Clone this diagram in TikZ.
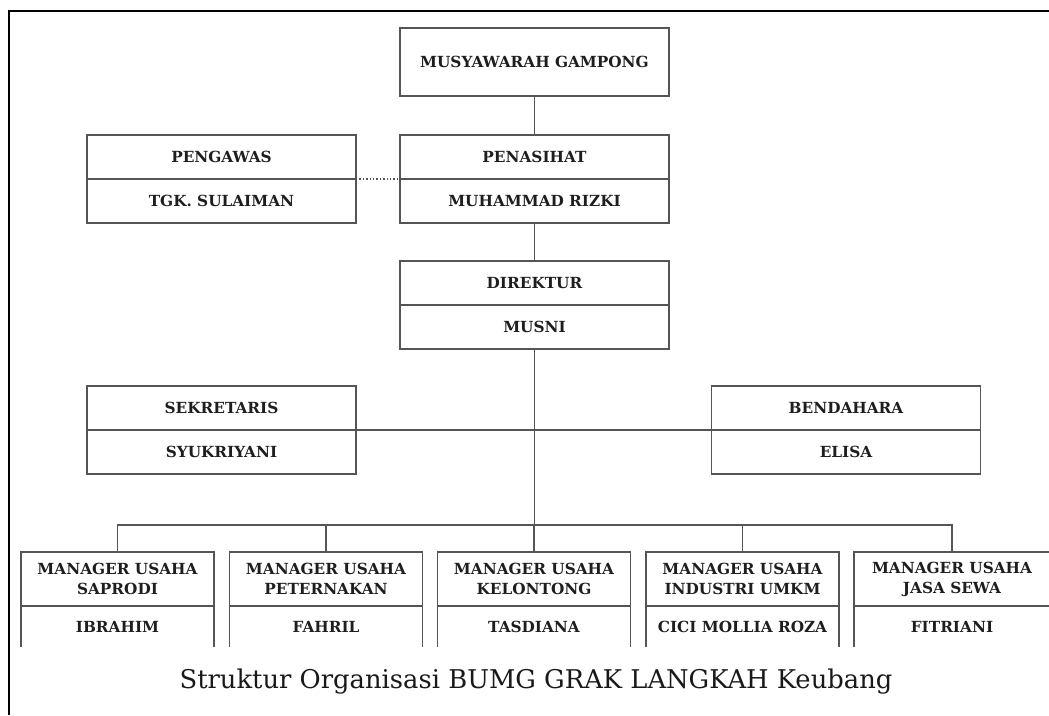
\documentclass[tikz,border=0pt]{standalone}
\usepackage{fontspec}
\setmainfont{DejaVu Serif}
\usetikzlibrary{positioning}
\definecolor{garis}{HTML}{555555}
\definecolor{huruf}{HTML}{1E1E1E}

\begin{document}
\begin{tikzpicture}[x=1pt, y=-1pt,
	kotak/.style={draw=garis, line width=1.3pt, minimum width=269pt, minimum height=44pt, inner sep=0pt, outer sep=0pt, anchor=north, align=center, text=huruf, font=\fontsize{15.3}{20}\selectfont\bfseries},
	mgr/.style={kotak, minimum height=54pt},
	mgrisi/.style={mgr, draw=none, minimum height=41pt},
	garisan/.style={draw=garis, line width=1.3pt}]
	\useasboundingbox (0,0) rectangle (1049,715);
	\draw[line width=2.2pt] (1049,11) -- (9,11) -- (9,715);
	% atas
	\node[kotak, minimum height=68pt] (musyawarah) at (534.5,28) {MUSYAWARAH GAMPONG};
	\node[kotak] (penasihat) at (534.5,135) {PENASIHAT}; \node[kotak] (rizki) at (penasihat.south) {MUHAMMAD RIZKI};
	\node[kotak] (pengawas) at (221.5,135) {PENGAWAS}; \node[kotak] (sulaiman) at (pengawas.south) {TGK. SULAIMAN};
	\node[kotak] (direktur) at (534.5,261) {DIREKTUR}; \node[kotak] (musni) at (direktur.south) {MUSNI};
	\node[kotak] (sekretaris) at (221.5,386) {SEKRETARIS}; \node[kotak] (syukriyani) at (sekretaris.south) {SYUKRIYANI};
	\node[kotak] (bendahara) at (846,386) {BENDAHARA}; \node[kotak] (elisa) at (bendahara.south) {ELISA};
	% manager usaha (kotak ke-5 terpotong di tepi kanan)
	\foreach \i/\px/\lebar/\usaha/\nama in {1/117.5/193/SAPRODI/IBRAHIM, 2/326/193/PETERNAKAN/FAHRIL, 3/534/193/KELONTONG/TASDIANA, 4/742.5/193/INDUSTRI UMKM/CICI MOLLIA ROZA, 5/952/196/JASA SEWA/FITRIANI}{
		\node[mgr, minimum width=\lebar pt] (m\i) at (\px,552) {MANAGER USAHA\\\usaha};
		\node[mgrisi, minimum width=\lebar pt] (n\i) at (m\i.south) {\nama};
		\draw[garisan] (n\i.north west) -- (n\i.south west) (n\i.north east) -- (n\i.south east);
	}
	\draw[garisan] (musyawarah) -- (penasihat);
	\draw[garisan] (rizki) -- (direktur);
	\draw[garisan, line width=1.4pt, dotted] (pengawas.south east) -- (penasihat.south west);
	\draw[garisan] (sekretaris.south east) -- (bendahara.south west);
	\coordinate (bus) at (534.5,525);
	\draw[garisan] (musni) -- (bus);
	\draw[garisan] (m1.north) |- (bus) -| (m5.north);
	\foreach \i in {2,3,4} \draw[garisan] (m\i.north) -- (m\i.north |- bus);
	%\draw[garisan] (m3.north) -- (bus);
	\node[anchor=base, text=black!90, font=\fontsize{25.8}{30}\selectfont] (judul) at (536,688) {Struktur Organisasi BUMG GRAK LANGKAH Keubang};
\end{tikzpicture}
\end{document}
